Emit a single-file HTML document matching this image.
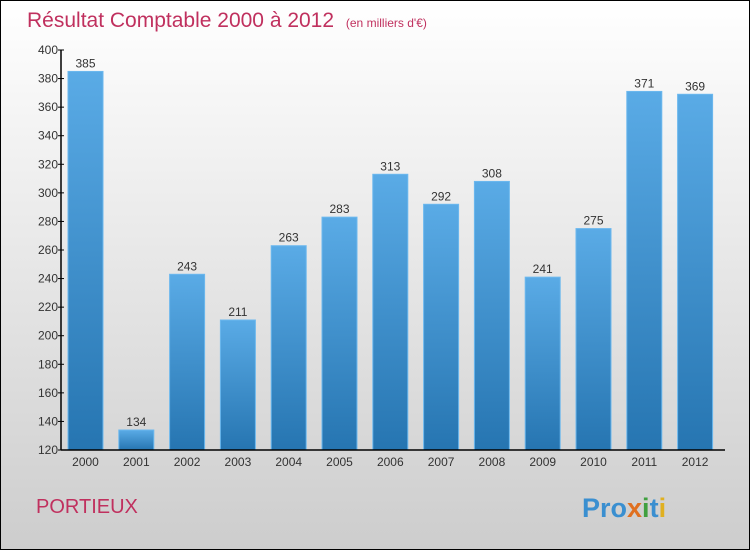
<!DOCTYPE html>
<html><head><meta charset="utf-8"><style>
body{margin:0}
svg{display:block;font-family:"Liberation Sans",sans-serif}
</style></head><body>
<svg width="750" height="550" viewBox="0 0 750 550">
<defs>
<linearGradient id="bg" x1="0" y1="0" x2="0" y2="1"><stop offset="0" stop-color="#ffffff"/><stop offset="1" stop-color="#cdcdcd"/></linearGradient>
<linearGradient id="bar" x1="0" y1="0" x2="0" y2="1"><stop offset="0" stop-color="#5aabe6"/><stop offset="1" stop-color="#2675b1"/></linearGradient>
</defs>
<rect x="0.5" y="0.5" width="749" height="549" fill="url(#bg)" stroke="#000"/>
<text x="27" y="27" font-size="21" fill="#c0305e">Résultat Comptable 2000 à 2012 <tspan font-size="12" dx="6">(en milliers d'€)</tspan></text>
<g id="plot"></g>
<text x="36" y="513" font-size="20" fill="#c0305e">PORTIEUX</text>
<text x="582" y="517" font-size="27" font-weight="bold"><tspan fill="#3a8fd0">Pro</tspan><tspan fill="#e07020">x</tspan><tspan fill="#40a040">i</tspan><tspan fill="#3a8fd0">t</tspan><tspan fill="#e0b020">i</tspan></text>
</svg>
<script>
const categories=["2000","2001","2002","2003","2004","2005","2006","2007","2008","2009","2010","2011","2012"];
const values=[385,134,243,211,263,283,313,292,308,241,275,371,369];
const yTicks=[120,140,160,180,200,220,240,260,280,300,320,340,360,380,400];
const NS="http://www.w3.org/2000/svg";
const g=document.getElementById('plot');
const yMin=120,yMax=400,plotTop=50,bot=450,left=61,step=50.8,first=85.5,bw=35;
const y=v=>bot-(v-yMin)/(yMax-yMin)*(bot-plotTop);
const x=i=>first+i*step;
function mk(t,a){const e=document.createElementNS(NS,t);for(const k in a)e.setAttribute(k,a[k]);g.appendChild(e);return e;}
values.forEach((v,i)=>{
 const r=mk('rect',{x:x(i)-bw/2,y:y(v),width:bw,height:bot-y(v),fill:'url(#bar)',stroke:'#6cb8ee','stroke-width':1});
 
 
 const t=mk('text',{x:x(i),y:y(v)-4,'text-anchor':'middle','font-size':12,fill:'#333'});
 t.textContent=v;
 
 
 const c=mk('text',{x:x(i),y:bot+16,'text-anchor':'middle','font-size':12,fill:'#333'});
 c.textContent=categories[i];
 
 
});
yTicks.forEach(v=>{
 const l=mk('line',{x1:left-3,x2:left+3,y1:y(v),y2:y(v),stroke:'#000'});
 
 
 const t=mk('text',{x:left-3,y:y(v)+4,'text-anchor':'end','font-size':12,fill:'#333'});
 t.textContent=v;
 
 
});
const ya=mk('line',{x1:left,x2:left,y1:plotTop,y2:bot,stroke:'#000','stroke-width':1.5});


const xa=mk('line',{x1:left,x2:725,y1:bot,y2:bot,stroke:'#000','stroke-width':1.5});


</script>
</body></html>
